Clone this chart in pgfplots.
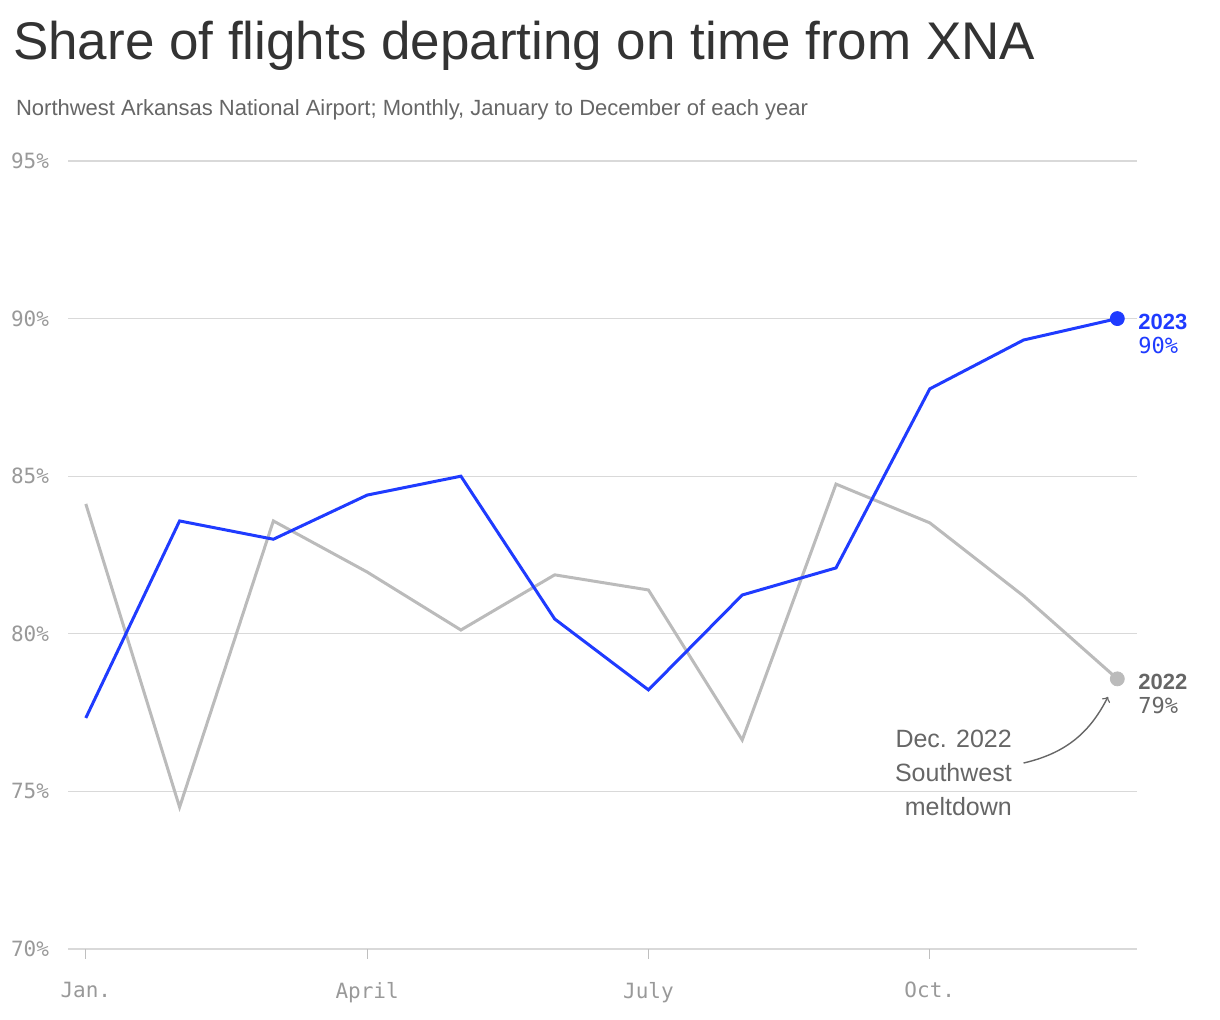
\documentclass[border=0pt]{standalone}
\usepackage{pgfplots}
\pgfplotsset{compat=1.18}
\usepackage{fontspec}
\setmainfont{Liberation Sans}
\newfontfamily\monof{DejaVu Sans Mono}
\definecolor{bl}{HTML}{1F3BFF}
\definecolor{gr}{HTML}{BBBBBB}
\definecolor{tx}{HTML}{333333}
\definecolor{sub}{HTML}{666666}
\definecolor{lab}{HTML}{999999}
\begin{document}
\begin{tikzpicture}[x=0.5pt,y=0.5pt]
\useasboundingbox (0,0) rectangle (1220,1020);
\node[anchor=base west,text=tx,font=\fontsize{26.5}{30}\selectfont] at (6,960) {Share of flights departing on time from XNA};
\node[anchor=base west,text=sub,font=\fontsize{11}{13}\selectfont] at (9,904) {Northwest Arkansas National Airport; Monthly, January to December of each year};
\begin{axis}[at={(34pt,35.5pt)},anchor=south west,scale only axis,
 width=534.5pt,height=394pt,xmin=-0.19,xmax=11.21,ymin=70,ymax=95,
 clip=false,axis line style={draw=none},xtick pos=bottom,ytick pos=left,
 ytick={70,75,80,85,90,95},yticklabels={70\%,75\%,80\%,85\%,90\%,95\%},
 ymajorgrids,grid style={draw=gray!30,line width=0.6pt},
 xtick={0,3,6,9},xticklabels={Jan.,April,July,Oct.},
 tick label style={font=\monof\fontsize{10.5}{12}\selectfont,text=lab},
 ytick style={draw=none},
 xtick style={draw=gray!50,line width=0.6pt},tick align=outside,major tick length=5pt,
 yticklabel style={xshift=-1pt},xticklabel style={yshift=-8pt}]
\addplot[gr,line width=1.5pt] coordinates {(0,84.12)(1,74.5)(2,83.58)(3,81.96)(4,80.12)(5,81.87)(6,81.39)(7,76.63)(8,84.75)(9,83.52)(10,81.2)(11,78.57)};
\addplot[bl,line width=1.5pt] coordinates {(0,77.33)(1,83.58)(2,83.0)(3,84.4)(4,85.0)(5,80.47)(6,78.22)(7,81.23)(8,82.09)(9,87.77)(10,89.32)(11,90.0)};
\addplot[only marks,mark=*,mark size=3.5pt,gr] coordinates {(11,78.57)};
\addplot[only marks,mark=*,mark size=3.5pt,bl] coordinates {(11,90.0)};
\node[anchor=west,align=left,font=\fontsize{11}{13}\selectfont,text=bl] at (axis cs:11.15,89.5) {\textbf{2023}\\[-1pt]{\monof 90\%}};
\node[anchor=west,align=left,font=\fontsize{11}{13}\selectfont,text=sub] at (axis cs:11.15,78.1) {\textbf{2022}\\[-1pt]{\monof 79\%}};
\node[anchor=east,align=right,font=\fontsize{12.5}{17}\selectfont,text=sub] at (axis cs:9.95,75.6) {Dec. 2022\\Southwest\\meltdown};
\draw[->,sub,line width=0.7pt] (axis cs:10.0,75.9) to[bend right=25] (axis cs:10.9,78.0);
\end{axis}
\end{tikzpicture}
\end{document}
